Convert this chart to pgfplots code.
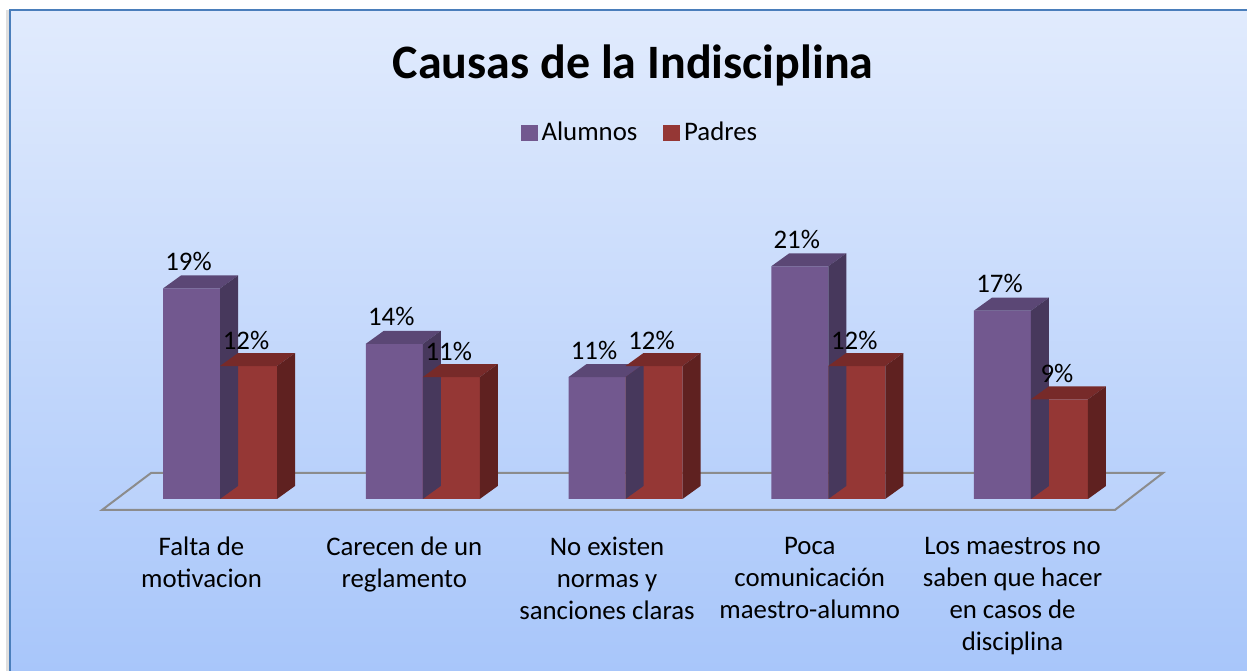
\documentclass[border=0pt]{standalone}
\usepackage{fontspec}
\setmainfont{Carlito}
\usepackage{pgfplots}
\pgfplotsset{compat=1.18}
\usetikzlibrary{backgrounds}

\definecolor{alumF}{HTML}{72588F}
\definecolor{alumT}{HTML}{5B4775}
\definecolor{alumS}{HTML}{47385C}
\definecolor{padF}{HTML}{953735}
\definecolor{padT}{HTML}{772A29}
\definecolor{padS}{HTML}{5F2120}
\definecolor{frameblue}{HTML}{4A7EBB}
\definecolor{bgtop}{HTML}{E1EBFD}
\definecolor{bgbot}{HTML}{A8C6FA}
\definecolor{floorline}{HTML}{8C8C8C}

% top and side faces of a column; origin = top centre of the group
% #1 shift of the column, #2 top colour, #3 side colour
\newcommand\barfaces[3]{%
  \pgftransformshift{\pgfpoint{#1}{0pt}}%
  \pgfmathsetlengthmacro\bh{\vy*5.54pt}%
  \pgfsetfillcolor{#2}%
  \pgfpathmoveto{\pgfpoint{-14.25pt}{0pt}}%
  \pgfpathlineto{\pgfpoint{-5.25pt}{6.5pt}}%
  \pgfpathlineto{\pgfpoint{23.25pt}{6.5pt}}%
  \pgfpathlineto{\pgfpoint{14.25pt}{0pt}}%
  \pgfpathclose\pgfusepath{fill}%
  \pgfsetfillcolor{#3}%
  \pgfpathmoveto{\pgfpoint{14.25pt}{0pt}}%
  \pgfpathlineto{\pgfpoint{23.25pt}{6.5pt}}%
  \pgfpathlineto{\pgfpoint{23.25pt}{6.5pt-\bh}}%
  \pgfpathlineto{\pgfpoint{14.25pt}{-\bh}}%
  \pgfpathclose\pgfusepath{fill}%
}
\pgfdeclareplotmark{facesA}{\barfaces{-14.25pt}{alumT}{alumS}}
\pgfdeclareplotmark{facesP}{\barfaces{14.25pt}{padT}{padS}}

\newcommand\lblfont{\fontsize{13.4}{16}\selectfont}

\begin{document}
\begin{tikzpicture}
\begin{axis}[
  scale only axis,
  x=101.375pt, y=5.54pt,
  xmin=-1.0851, xmax=5.0654,
  ymin=0, ymax=45.036,
  enlargelimits=false,
  clip=false,
  hide y axis,
  axis line style={draw=none},
  major tick length=0pt,
  xtick={0,...,4},
  xticklabels={{Falta de\\motivacion},{Carecen de un\\reglamento},{No existen\\normas y\\sanciones claras},{Poca\\comunicación\\maestro-alumno},{Los maestros no\\saben que hacer\\en casos de\\disciplina}},
  xticklabel style={align=center, font=\lblfont, xshift=-9.25pt, yshift=-15.5pt, anchor=north},
  /pgf/number format/assume math mode=true,
  title={Causas de la Indisciplina},
  title style={at={(0.5076,0.8196)}, anchor=base, font=\fontsize{24}{29}\selectfont\bfseries},
  legend columns=2,
  legend style={draw=none, fill=none, at={(0.5140,0.7335)}, anchor=center,
    font=\lblfont, /tikz/every even column/.append style={column sep=11pt}},
]
\addlegendimage{legend image code/.code={\fill[alumF] (0pt,-3.5pt) rectangle (8pt,4pt);}}
\addlegendentry{Alumnos}
\addlegendimage{legend image code/.code={\fill[padF] (0pt,-3.5pt) rectangle (8pt,4pt);}}
\addlegendentry{Padres}

% floor
\draw[floorline, line width=1pt, fill=white, fill opacity=0.08]
  (axis cs:-0.582,-0.99) -- (axis cs:-0.340,2.35) -- (axis cs:4.651,2.35)
  -- (axis cs:4.414,-0.99) -- cycle;

\addplot[forget plot, ybar, bar width=28.5pt, bar shift=-14.25pt, fill=alumF, draw=none,
  nodes near coords={\pgfmathprintnumber{\pgfplotspointmeta}\%},
  nodes near coords style={font=\lblfont, anchor=center, yshift=13.5pt, xshift=-15.75pt}]
  coordinates {(0,19) (1,14) (2,11) (3,21) (4,17)};
\addplot[forget plot, scatter, only marks, mark=facesA,
  visualization depends on={rawy \as \vy}]
  coordinates {(0,19) (1,14) (2,11) (3,21) (4,17)};
\addplot[forget plot, ybar, bar width=28.5pt, bar shift=14.25pt, fill=padF, draw=none,
  nodes near coords={\pgfmathprintnumber{\pgfplotspointmeta}\%},
  nodes near coords style={font=\lblfont, anchor=center, yshift=13pt, xshift=13pt}]
  coordinates {(0,12) (1,11) (2,12) (3,12) (4,9)};
\addplot[forget plot, scatter, only marks, mark=facesP,
  visualization depends on={rawy \as \vy}]
  coordinates {(0,12) (1,11) (2,12) (3,12) (4,9)};

\coordinate (P0) at (axis cs:-1.0851,-15.523);
\coordinate (P1) at (axis cs:5.0654,45.036);
\coordinate (B0) at (axis cs:-1.0358,-15.523);
\coordinate (B1) at (axis cs:5.0654,44.134);
\end{axis}
\begin{scope}[on background layer]
  \fill[white] (P0) rectangle (P1);
  \fill[gray!25] ([xshift=-2pt]B0) rectangle ([xshift=-0.5pt]B0 |- B1);
  \shade[top color=bgtop, bottom color=bgbot] (B0) rectangle (B1);
  \draw[frameblue, line width=1.2pt] (B0) -- (B0 |- B1) -- (B1);
\end{scope}
\pgfresetboundingbox
\path[use as bounding box] (P0) rectangle (P1);
\end{tikzpicture}
\end{document}
